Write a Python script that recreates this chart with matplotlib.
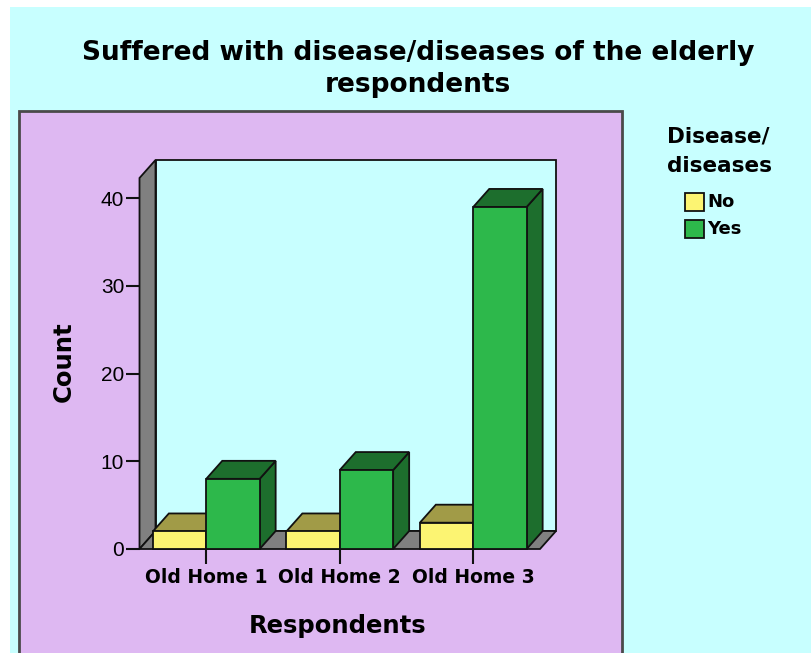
import matplotlib.pyplot as plt
from matplotlib.patches import Polygon, Rectangle

homes = ["Old Home 1", "Old Home 2", "Old Home 3"]
no_counts = [2, 2, 3]
yes_counts = [8, 9, 39]
y_ticks = [0, 10, 20, 30, 40]
legend_labels = ["No", "Yes"]

CYAN = "#C8FFFF"
PURPLE = "#DEB8F2"
GRAY = "#808080"
EDGE = "#111111"
YELLOW = ("#FCF472", "#A19B47")
GREEN = ("#2DB84B", "#1D6E2D")

W, H = 811, 653
fig = plt.figure(figsize=(W / 100, H / 100), dpi=100)
fig.patch.set_facecolor("white")


def fx(px):
    return px / W


def fy(py):
    return 1 - py / H


# outer chart area and inner panel
fig.add_artist(Rectangle((fx(10), 0), 1 - fx(10), fy(7), transform=fig.transFigure,
                         facecolor=CYAN, edgecolor="none", zorder=0))
fig.add_artist(Rectangle((fx(19), -0.05), fx(622) - fx(19), fy(111) + 0.05,
                         transform=fig.transFigure, facecolor=PURPLE,
                         edgecolor="#4A4A4A", linewidth=2, zorder=0))

# axes = front plane of the 3d box
ax = fig.add_axes([fx(139.5), fy(549), fx(540) - fx(139.5), (549 - 178) / H])
ax.set_xlim(-0.5, 2.5)
ytop = 42.3
ax.set_ylim(0, ytop)
ax.patch.set_visible(False)
for s in ax.spines.values():
    s.set_visible(False)

# depth offset in data units
px_x = (540 - 139.5) / 3
px_y = (549 - 178) / ytop
DX = 16 / px_x
DY = 18 / px_y


def poly(pts, fc, z):
    ax.add_patch(Polygon(pts, closed=True, facecolor=fc, edgecolor=EDGE,
                         linewidth=1.3, clip_on=False, zorder=z,
                         joinstyle="miter"))


# back wall, side wall, floor
x0, x1 = -0.5, 2.5
poly([(x0 + DX, DY), (x1 + DX, DY), (x1 + DX, ytop + DY), (x0 + DX, ytop + DY)], CYAN, 1)
poly([(x0, 0), (x0 + DX, DY), (x0 + DX, ytop + DY), (x0, ytop)], GRAY, 2)
poly([(x0, 0), (x1, 0), (x1 + DX, DY), (x0 + DX, DY)], GRAY, 2)


def bar3d(left, w, h, colors, z):
    front, shade = colors
    poly([(left + w, 0), (left + w + DX, DY), (left + w + DX, h + DY), (left + w, h)], shade, z)
    poly([(left, h), (left + w, h), (left + w + DX, h + DY), (left + DX, h + DY)], shade, z)
    poly([(left, 0), (left + w, 0), (left + w, h), (left, h)], front, z)


bw = 0.4
z = 3
for i in range(len(homes)):
    bar3d(i - bw, bw, no_counts[i], YELLOW, z)
    bar3d(i, bw, yes_counts[i], GREEN, z + 1)
    z += 2

ax.set_yticks(y_ticks)
ax.set_yticklabels([str(t) for t in y_ticks], fontfamily="Liberation Sans", fontsize=15)
ax.tick_params(axis="y", length=10, width=1.5, direction="out", pad=1, color=EDGE)
ax.set_xticks(range(len(homes)))
ax.set_xticklabels(homes, fontfamily="DejaVu Sans", fontweight="bold", fontsize=13.5)
ax.tick_params(axis="x", length=11, width=1.5, direction="out", pad=3, color=EDGE)

# titles and axis labels
fig.text(fx(418), fy(60), "Suffered with disease/diseases of the elderly",
         ha="center", va="baseline", fontsize=19, fontweight="bold")
fig.text(fx(418), fy(92), "respondents", ha="center", va="baseline",
         fontsize=19, fontweight="bold")
fig.text(fx(64), fy(362), "Count", rotation=90, ha="center", va="center",
         fontsize=17.5, fontweight="bold")
fig.text(fx(338), fy(633), "Respondents", ha="center", va="baseline",
         fontsize=17.5, fontweight="bold")

# legend
fig.text(fx(667), fy(143), "Disease/", ha="left", va="baseline",
         fontsize=15.5, fontweight="bold")
fig.text(fx(667), fy(172), "diseases", ha="left", va="baseline",
         fontsize=15.5, fontweight="bold")
for k, (lab, col) in enumerate(zip(legend_labels, [YELLOW[0], GREEN[0]])):
    top = 193 + k * 27
    fig.add_artist(Rectangle((fx(685), fy(top + 18)), 19 / W, 18 / H,
                             transform=fig.transFigure, facecolor=col,
                             edgecolor=EDGE, linewidth=1.3))
    fig.text(fx(707), fy(top + 9.5), lab, ha="left", va="center",
             fontsize=13, fontweight="bold")

fig.savefig("out.png", dpi=100, facecolor=fig.get_facecolor())
